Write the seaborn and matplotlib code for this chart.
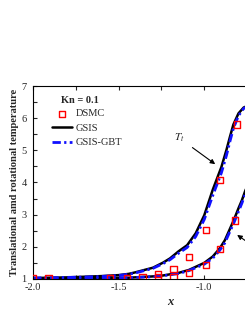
import numpy as np
import pandas as pd
import matplotlib
matplotlib.use("Agg")
import matplotlib.pyplot as plt
import seaborn as sns
from matplotlib.ticker import MultipleLocator, FixedLocator, FixedFormatter

# GSIS, translational temperature (upper curve)
x_tt_gsis = [-2.0, -1.9, -1.8, -1.7, -1.6, -1.5, -1.44, -1.4, -1.3, -1.24, -1.2,
             -1.15, -1.1, -1.05, -1.0, -0.95, -0.9, -0.87, -0.85, -0.83, -0.8,
             -0.77, -0.74, -0.7, -0.6, -0.5, -0.4]
t_tt_gsis = [1.03, 1.04, 1.05, 1.07, 1.09, 1.12, 1.16, 1.21, 1.35, 1.51, 1.64,
             1.86, 2.05, 2.42, 2.98, 3.78, 4.48, 5.02, 5.42, 5.8, 6.15,
             6.33, 6.4, 6.43, 6.45, 6.45, 6.45]
# GSIS-GBT, translational temperature
x_tt_gbt = x_tt_gsis
t_tt_gbt = [1.03, 1.04, 1.05, 1.06, 1.08, 1.11, 1.15, 1.19, 1.33, 1.48, 1.6,
            1.8, 1.98, 2.32, 2.85, 3.6, 4.3, 4.85, 5.28, 5.68, 6.08,
            6.3, 6.39, 6.43, 6.45, 6.45, 6.45]

# GSIS, rotational temperature (lower curve)
x_tr_gsis = [-2.0, -1.8, -1.6, -1.44, -1.3, -1.24, -1.15, -1.09, -1.0, -0.95,
             -0.91, -0.88, -0.855, -0.826, -0.8, -0.78, -0.76, -0.73, -0.7,
             -0.65, -0.6, -0.5, -0.4]
t_tr_gsis = [1.02, 1.02, 1.03, 1.04, 1.08, 1.11, 1.19, 1.28, 1.5, 1.7,
             1.95, 2.2, 2.5, 2.85, 3.2, 3.45, 3.75, 4.1, 4.5,
             5.1, 5.6, 6.2, 6.4]
# GSIS-GBT, rotational temperature
x_tr_gbt = x_tr_gsis
t_tr_gbt = [1.02, 1.02, 1.03, 1.04, 1.07, 1.1, 1.17, 1.26, 1.46, 1.65,
            1.89, 2.12, 2.42, 2.76, 3.1, 3.36, 3.66, 4.02, 4.42,
            5.02, 5.55, 6.18, 6.4]

# DSMC
x_dsmc_tt = [-1.36, -1.27, -1.18, -1.09, -0.99, -0.91, -0.81]
t_dsmc_tt = [1.06, 1.15, 1.31, 1.68, 2.52, 4.07, 5.8]
x_dsmc_tr = [-2.0, -1.91, -1.55, -1.45, -1.27, -1.18, -1.09, -0.99, -0.91, -0.82]
t_dsmc_tr = [1.02, 1.02, 1.02, 1.03, 1.05, 1.07, 1.19, 1.43, 1.93, 2.82]

x_ticks = [-2.0, -1.5, -1.0]
x_ticklabels = ["-2.0", "-1.5", "-1.0"]

sns.set_style("ticks")
plt.rcParams["font.family"] = ["Liberation Serif", "DejaVu Serif"]
plt.rcParams["mathtext.fontset"] = "stix"
plt.rcParams["axes.unicode_minus"] = False

fig = plt.figure(figsize=(2.45, 3.17), dpi=100)
# axes run past the right edge of the picture, as in the cropped original
ax = fig.add_axes([0.1347, 0.1199, 1.1184, 0.6088])

fs = 7.5
sns.lineplot(x=x_tt_gsis, y=t_tt_gsis, ax=ax, color="black", lw=1.8, label="GSIS", sort=False)
sns.lineplot(x=x_tr_gsis, y=t_tr_gsis, ax=ax, color="black", lw=1.8, sort=False)
sns.lineplot(x=x_tt_gbt, y=t_tt_gbt, ax=ax, color="#1010ff", lw=2.0, label="GSIS-GBT",
             sort=False)
sns.lineplot(x=x_tr_gbt, y=t_tr_gbt, ax=ax, color="#1010ff", lw=2.0, sort=False)
for ln in ax.lines[2:]:
    ln.set_dashes((3, 1.2, 0.8, 1.2))

dsmc = pd.DataFrame({"x": x_dsmc_tt + x_dsmc_tr, "T": t_dsmc_tt + t_dsmc_tr})
sns.scatterplot(data=dsmc, x="x", y="T", ax=ax, marker="s", s=20,
                facecolor="none", edgecolor="red", linewidth=1.0, label="DSMC", zorder=5)

ax.set_xlim(-2.0, -0.4)
ax.set_ylim(1, 7)
ax.xaxis.set_major_locator(FixedLocator(x_ticks))
ax.xaxis.set_major_formatter(FixedFormatter(x_ticklabels))
ax.xaxis.set_minor_locator(MultipleLocator(0.25))
ax.yaxis.set_major_locator(MultipleLocator(1))
ax.yaxis.set_minor_locator(MultipleLocator(0.5))
ax.tick_params(axis="both", which="both", direction="in", top=True, right=True,
               width=0.8, length=3)
ax.tick_params(axis="x", which="major", labelsize=fs, pad=3)
ax.tick_params(axis="y", which="major", labelsize=fs, pad=4.5)
for sp in ax.spines.values():
    sp.set_linewidth(0.8)
    sp.set_color("black")

ax.set_xlabel("x", fontsize=9, fontweight="bold", style="italic", labelpad=3)
ax.set_ylabel("Translational amd rotational temperature", fontsize=7.6, fontweight="bold", labelpad=2)

handles, labels = ax.get_legend_handles_labels()
order = [labels.index("DSMC"), labels.index("GSIS"), labels.index("GSIS-GBT")]
leg = ax.legend([handles[i] for i in order], [labels[i] for i in order],
                loc="upper left", bbox_to_anchor=(0.068, 0.88), frameon=False,
                fontsize=fs, handlelength=2.0, handletextpad=0.3, labelspacing=0.5,
                borderpad=0, borderaxespad=0)
ax.text(-1.835, 6.56, "Kn = 0.1", fontsize=fs, fontweight="bold", va="center", ha="left")

ax.annotate(r"$T_t$", xy=(-0.936, 4.57), xytext=(-1.145, 5.38), fontsize=8,
            ha="center", va="center",
            arrowprops=dict(arrowstyle="-|>", color="black", lw=0.8,
                            mutation_scale=7, shrinkA=4, shrinkB=0))
# arrow towards T_r; its label lies beyond the cropped edge
ax.annotate("", xy=(-0.808, 2.37), xytext=(-0.64, 1.75),
            arrowprops=dict(arrowstyle="-|>", color="black", lw=0.8,
                            mutation_scale=7, shrinkA=0, shrinkB=0))

fig.savefig("out.png", dpi=100)
